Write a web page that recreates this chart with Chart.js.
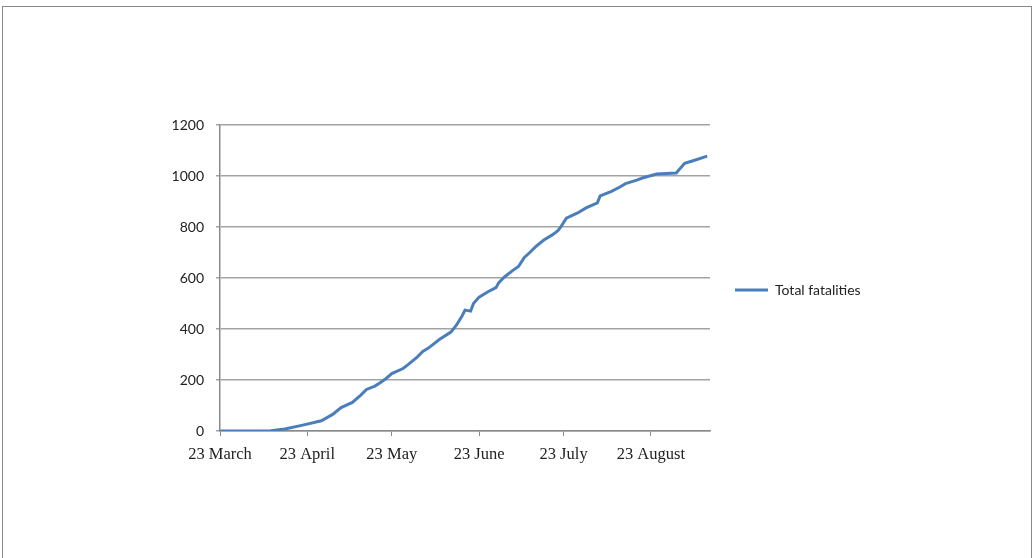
<!DOCTYPE html>
<html lang="en">
<head>
  <meta charset="UTF-8">
  <title>Total fatalities</title>
  <script src="https://cdn.jsdelivr.net/npm/chart.js"></script>
  <style>
    html, body {
      margin: 0;
      padding: 0;
      background: #fff;
      overflow: hidden;
    }

    .frame {
      position: absolute;
      left: 2px;
      top: 6px;
      width: 1028px;
      height: 560px;
      border: 1px solid #8a8a8a;
      border-bottom: none;
    }

    .chart-box {
      position: absolute;
      left: 0;
      top: 0;
      width: 1035px;
      height: 558px;
    }
  </style>
</head>
<body>

  <div class="frame"></div>
  <div class="chart-box">
    <canvas id="fatalChart" width="1035" height="558"></canvas>
  </div>

  <script>
    // days counted from 23 March
    const days = [0, 18, 23, 29, 36, 40, 43, 47, 50, 52, 55, 57, 59, 61, 65, 67, 70, 72, 74, 78,
      82, 84, 86, 87, 89, 90, 92, 95, 98, 99, 101, 104, 106, 108, 110, 112, 115, 118, 120, 121,
      123, 127, 130, 134, 135, 139, 142, 144, 148, 150, 155, 162, 165, 168, 173];
    const fatalities = [0, 1, 8, 22, 40, 65, 92, 112, 141, 163, 176, 190, 206, 225, 245, 262, 290, 312, 325, 360,
      388, 416, 452, 474, 470, 500, 525, 545, 562, 582, 604, 630, 645, 680, 700, 722, 749, 769, 786, 800,
      835, 855, 875, 895, 922, 940, 957, 970, 984, 992, 1008, 1012, 1050, 1060, 1078];

    const tickDays = [0, 31, 61, 92, 122, 153];
    const tickLabels = ["23 March", "23 April", "23 May", "23 June", "23 July", "23 August"];

    const seriesName = "Total fatalities";
    const lineColor = "#4a7ebb";
    const gridColor = "#a3a3a3";

    const points = days.map((d, i) => ({ x: d, y: fatalities[i] }));

    // work out the legend width so the plot ends where it should
    const legendFont = "14px Lato";
    const legendPad = 25;
    const legendLine = 33;
    const measure = document.createElement("canvas").getContext("2d");
    measure.font = legendFont;
    const legendWidth = legendPad + legendLine + 7 + measure.measureText(seriesName).width + 10;
    const plotRight = 710;

    const ctx = document.getElementById("fatalChart").getContext("2d");

    new Chart(ctx, {
      type: "line",
      data: {
        datasets: [{
          label: seriesName,
          data: points,
          borderColor: lineColor,
          backgroundColor: lineColor,
          borderWidth: 3,
          pointRadius: 0,
          tension: 0,
          fill: false
        }]
      },
      options: {
        responsive: false,
        animation: false,
        layout: {
          padding: { left: 150, top: 125, right: 1035 - plotRight - legendWidth, bottom: 87 }
        },
        plugins: {
          tooltip: { enabled: false },
          legend: {
            position: "right",
            fullSize: false,
            // blank title just nudges the single entry a little lower
            title: { display: true, text: " ", font: { size: 10, lineHeight: 1 }, padding: { top: 7, bottom: 7 } },
            labels: {
              usePointStyle: true,
              pointStyle: "line",
              pointStyleWidth: legendLine,
              padding: legendPad,
              color: "#222",
              font: { family: "Lato", size: 14 }
            }
          }
        },
        scales: {
          x: {
            type: "linear",
            min: 0,
            max: 174,
            afterBuildTicks: scale => {
              scale.ticks = tickDays.map(v => ({ value: v }));
            },
            afterFit: scale => { scale.height = 40; },
            ticks: {
              autoSkip: false,
              maxRotation: 0,
              padding: 9,
              color: "#222",
              font: { family: "Liberation Serif", size: 16.5 },
              callback: (v) => tickLabels[tickDays.indexOf(v)]
            },
            grid: {
              drawOnChartArea: false,
              drawTicks: true,
              tickLength: 5,
              color: "#8a8a8a"
            },
            border: { display: true, color: "#8a8a8a", width: 1.5 }
          },
          y: {
            min: 0,
            max: 1200,
            afterFit: scale => { scale.width = 70; },
            ticks: {
              stepSize: 200,
              padding: 12,
              color: "#222",
              font: { family: "Lato", size: 14 },
              callback: v => String(v)
            },
            grid: {
              color: gridColor,
              lineWidth: 1.5,
              tickLength: 4
            },
            border: { display: true, color: "#8a8a8a", width: 1.5 }
          }
        }
      }
    });
  </script>

</body>
</html>
